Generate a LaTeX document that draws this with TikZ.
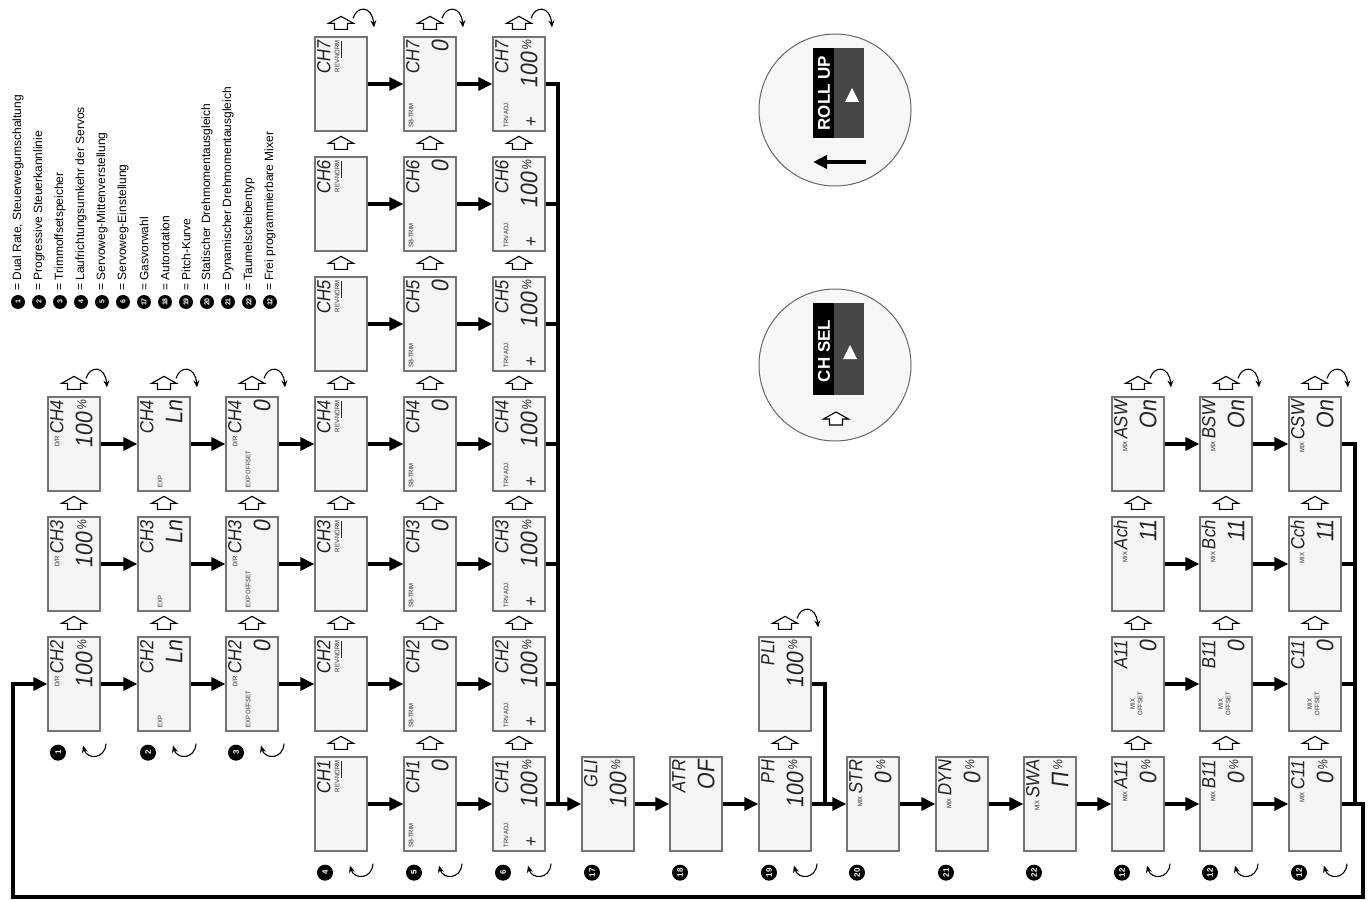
\documentclass[tikz,border=0pt]{standalone}
\usepackage{fontspec}
\setmainfont{Liberation Sans}
\newfontfamily\lcdfont[FakeStretch=0.9]{Liberation Sans}
\newfontfamily\segfont[FakeStretch=0.9, FakeSlant=0.14]{Liberation Sans}
\usetikzlibrary{arrows.meta,calc}

\newcommand{\lcdbig}[1]{{\segfont\fontsize{19}{19}\selectfont #1}}
\newcommand{\lcdval}[1]{{\segfont\fontsize{24}{24}\selectfont #1}}
\newcommand{\lcdsm}[1]{{\fontsize{6.5}{6.5}\selectfont #1}}
\newcommand{\pct}{\,{\segfont\fontsize{13}{13}\selectfont\raisebox{6pt}{\%}}}

% one display: name, x, y, line 1 left/right, line 2 left/right
\newcommand{\lcd}[7]{%
  \node[lcd] (#1) at (#2,#3) {};
  \node[rd, anchor=base west] (#1-a) at ($(#1.south west)+(16,-4)$) {#4};
  \node[rd, anchor=base east] (#1-b) at ($(#1.north west)+(16,4)$) {#5};
  \node[rd, anchor=base west] (#1-c) at ($(#1.south west)+(45,-4)$) {#6};
  \node[rd, anchor=base east] (#1-d) at ($(#1.north west)+(45,4)$) {#7};}
\newcommand{\lcdup}[1]{\pic at ($(#1.north)+(0,-13)$) {openup};}
\newcommand{\lcdover}[1]{\draw[curl] ($(#1.north)+(12,-18)$) .. controls ($(#1.north)+(16,-31)$) and ($(#1.north)+(31,-31)$) .. ($(#1.north)+(33,-9)$);}
\newcommand{\lcdback}[1]{\draw[curl] ($(#1.south)+(32,12)$) .. controls ($(#1.south)+(31,28)$) and ($(#1.south)+(13,28)$) .. ($(#1.south)+(9,14)$);}
\newcommand{\lcdbadge}[2]{\node[badge] (#1-no) at ($(#1.south)+(-16,21)$) {#2};}

\tikzset{
  lcd/.style={draw=black!55, line width=1.3pt, fill=black!4, minimum width=52pt, minimum height=94pt, inner sep=0pt},
  rd/.style={rotate=90, inner sep=0pt, font=\lcdfont, text=black!85},
  flow/.style={line width=3.4pt, -{Triangle[length=14pt,width=13pt]}},
  bus/.style={line width=3.4pt},
  badge/.style={circle, fill=black, text=white, inner sep=0pt, minimum size=16pt, rotate=90, font=\bfseries\fontsize{8}{8}\selectfont},
  legend/.style={rotate=90, inner sep=0pt, font=\fontsize{12}{12}\selectfont},
  curl/.style={line width=1.1pt, -{Stealth[length=7pt,width=6pt]}},
  openup/.pic={\draw[line width=1.1pt, fill=white] (0,-7) -- (12.5,0) -- (6.5,0) -- (6.5,6) -- (-6.5,6) -- (-6.5,0) -- (-12.5,0) -- cycle;}
}

\begin{document}
\begin{tikzpicture}[x=1pt, y=-1pt]
\useasboundingbox (0,0) rectangle (1371,901);

% legend
\foreach \n/\txt [count=\i from 0] in {1/{Dual Rate, Steuerwegumschaltung}, 2/Progressive Steuerkannlinie,
    3/Trimmoffsetspeicher, 4/Laufrichtungsumkehr der Servos, 5/Servoweg-Mittenverstellung,
    6/Servoweg-Einstellung, 17/Gasvorwahl, 18/Autorotation, 19/Pitch-Kurve,
    20/Statischer Drehmomentausgleich, 21/Dynamischer Drehmomentausgleich,
    22/Taumelscheibentyp, 12/Frei programmierbare Mixer}{
  \node[badge, minimum size=14pt, font=\bfseries\fontsize{7}{7}\selectfont] (key\n) at (18+21*\i,302) {\n};
  \node[legend, anchor=west] (keytext\n) at (18+21*\i,291) {= \txt};
}

% REV-NORM, SB-TRIM, TRV ADJ.
\foreach \c in {1,...,7}{
  \pgfmathsetmacro{\yy}{924-120*\c}
  \lcd{rev\c}{341}{\yy}{}{\lcdbig{CH\c}}{}{\raisebox{20pt}{\lcdsm{REV-\underline{NORM}}}}
  \lcd{sbt\c}{430}{\yy}{\raisebox{6pt}{\lcdsm{SB-TRIM}}}{\lcdbig{CH\c}}{}{\lcdval{0}\hspace{12pt}}
  \lcd{trv\c}{519}{\yy}{\lcdsm{TRV ADJ.}}{\lcdbig{CH\c}}{\lcdbig{+}}{\lcdval{100}\pct}
  \draw[flow] (rev\c) -- (sbt\c);
  \draw[flow] (sbt\c) -- (trv\c);
  \lcdup{rev\c} \lcdup{sbt\c} \lcdup{trv\c}
}

% D/R, EXP, EXP OFFSET
\foreach \c in {2,3,4}{
  \pgfmathsetmacro{\yy}{924-120*\c}
  \lcd{dr\c}{74}{\yy}{}{\raisebox{4pt}{\lcdsm{D/R}}\,\lcdbig{CH\c}}{}{\lcdval{100}\pct}
  \lcd{exp\c}{164}{\yy}{}{\lcdbig{CH\c}}{\raisebox{20pt}{\lcdsm{EXP}}}{\lcdval{Ln}\hspace{18pt}}
  \lcd{ofs\c}{252}{\yy}{}{\raisebox{4pt}{\lcdsm{D/R}}\,\lcdbig{CH\c}}{\raisebox{20pt}{\lcdsm{EXP OFFSET}}}{\lcdval{0}\hspace{10pt}}
  \draw[flow] (dr\c) -- (exp\c);
  \draw[flow] (exp\c) -- (ofs\c);
  \draw[flow] (ofs\c) -- (rev\c);
  \lcdup{dr\c} \lcdup{exp\c} \lcdup{ofs\c}
}

% single functions
\lcd{gli}{608}{804}{}{\lcdbig{GLI}}{}{\lcdval{100}\pct}
\lcd{atr}{696}{804}{}{\lcdbig{ATR}}{}{\lcdval{OF}\hspace{8pt}}
\lcd{ph}{785}{804}{}{\lcdbig{PH}}{}{\lcdval{100}\pct}
\lcd{pli}{785}{684}{}{\lcdbig{PLI}}{}{\lcdval{100}\pct}
\lcd{str}{873}{804}{}{\lcdsm{MIX}\,\lcdbig{STR}}{}{\lcdval{0}\pct}
\lcd{dyn}{962}{804}{}{\lcdsm{MIX}\,\lcdbig{DYN}}{}{\lcdval{0}\pct}
\lcd{swa}{1050}{804}{}{\lcdsm{MIX}\,\lcdbig{SWA}}{}{\lcdval{Π}\pct}
\lcdup{ph} \lcdup{pli}

% free mixers
\foreach \m/\xx in {A/1138,B/1226,C/1315}{
  \lcd{mix\m}{\xx}{804}{}{\lcdsm{MIX}\,\lcdbig{\m11}}{}{\lcdval{0}\pct}
  \lcd{mof\m}{\xx}{684}{}{\lcdbig{\m11}}{\raisebox{14pt}{\hspace{12pt}\shortstack{\lcdsm{MIX}\\\lcdsm{OFFSET}}}}{\lcdval{0}\hspace{10pt}}
  \lcd{mch\m}{\xx}{564}{}{\lcdsm{MIX}\,\lcdbig{\m ch}}{}{\lcdval{11}\hspace{14pt}}
  \lcd{msw\m}{\xx}{444}{}{\lcdsm{MIX}\,\lcdbig{\m SW}}{}{\lcdval{On}}
  \lcdup{mix\m} \lcdup{mof\m} \lcdup{mch\m} \lcdup{msw\m}
  \lcdover{msw\m} \lcdback{mix\m} \lcdbadge{mix\m}{12}
}
\draw[flow] (mixA) -- (mixB);  \draw[flow] (mixB) -- (mixC);
\draw[flow] (mofA) -- (mofB);  \draw[flow] (mofB) -- (mofC);
\draw[flow] (mchA) -- (mchB);  \draw[flow] (mchB) -- (mchC);
\draw[flow] (mswA) -- (mswB);  \draw[flow] (mswB) -- (mswC);

% main chain
\coordinate (busL) at (558,804);
\coordinate (busP) at (825,804);
\coordinate (busR) at (1355,804);
\coordinate (loopR) at (1363,897);
\coordinate (loopL) at (13,897);
\foreach \c in {2,...,6}{\draw[bus] (trv\c.east) -- (trv\c.east -| busL);}
\draw[bus] (trv7.east) -| (busL);
\draw[flow] (trv1) -- (gli);
\draw[flow] (gli) -- (atr);
\draw[flow] (atr) -- (ph);
\draw[bus] (pli.east) -| (busP);
\draw[flow] (ph) -- (str);
\draw[flow] (str) -- (dyn);
\draw[flow] (dyn) -- (swa);
\draw[flow] (swa) -- (mixA);
\draw[bus] (mswC.east) -| (busR);
\draw[bus] (mchC.east) -- (mchC.east -| busR);
\draw[bus] (mofC.east) -- (mofC.east -| busR);
\draw[flow, line width=3.8pt] (mixC.east) -| (loopR) -- (loopL) |- (dr2.west);

% turning arrows and numbers
\foreach \b in {dr4,exp4,ofs4,rev7,sbt7,trv7,pli}{\lcdover{\b}}
\foreach \b in {dr2,exp2,ofs2,rev1,sbt1,trv1,ph}{\lcdback{\b}}
\foreach \b/\n in {dr2/1,exp2/2,ofs2/3,rev1/4,sbt1/5,trv1/6,gli/17,atr/18,ph/19,str/20,dyn/21,swa/22}{\lcdbadge{\b}{\n}}

% buttons
\draw[black!60, line width=1pt, fill=black!3] (835,365) circle (76);
\fill[black] (813,303) rectangle (834,395);
\fill[black!72] (834,303) rectangle (864,395);
\node[rotate=90, text=white, font=\bfseries\fontsize{17}{17}\selectfont] (chsel) at (824,351) {CH SEL};
\fill[white] (850,345) -- (857,359) -- (843,359) -- cycle;
\pic at (836,419) {openup};

\draw[black!60, line width=1pt, fill=black!3] (835,110) circle (76);
\fill[black] (813,48) rectangle (834,138);
\fill[black!72] (834,48) rectangle (864,138);
\node[rotate=90, text=white, font=\bfseries\fontsize{17}{17}\selectfont] (rollup) at (824,93) {ROLL UP};
\fill[white] (852,88) -- (859,102) -- (845,102) -- cycle;
\coordinate (rollR) at (866,162);
\coordinate (rollL) at (813,162);
\draw[flow, line width=4.2pt] (rollR) -- (rollL);
\end{tikzpicture}
\end{document}
